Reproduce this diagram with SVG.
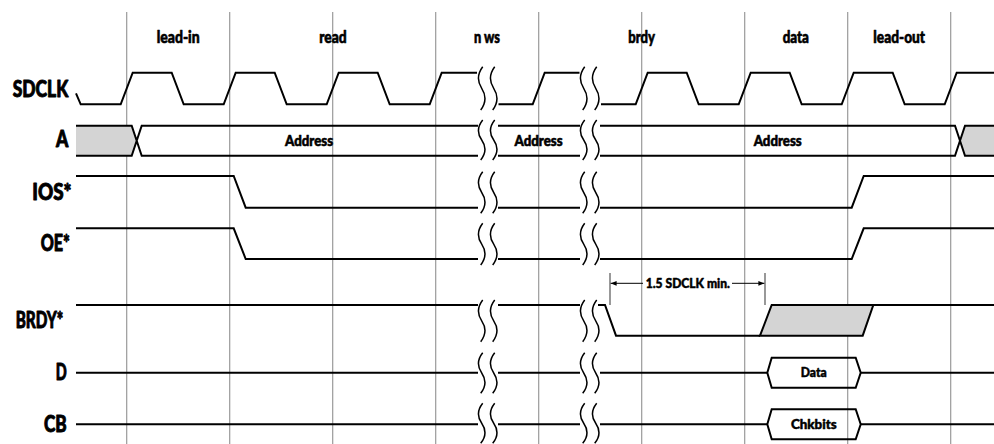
<svg xmlns="http://www.w3.org/2000/svg" width="994" height="444" viewBox="0 0 994 444">
<style>
.grid{stroke:#9a9a9a;stroke-width:1.2;fill:none}
.sig{fill:none;stroke:#000;stroke-width:2;stroke-linejoin:miter}
.brk{fill:none;stroke:#000;stroke-width:1.5}
.gray{fill:#d4d4d4;stroke:none}
.t{font-family:Lato,"Liberation Sans Narrow","DejaVu Sans Condensed",sans-serif;font-weight:900;fill:#000;stroke:#000;stroke-linejoin:round}
.lbl{font-size:22px;stroke-width:0.9}
.hdr{font-size:16px;text-anchor:middle;stroke-width:0.6}
.bus{font-size:15px;text-anchor:middle;stroke-width:0.6}
.sm{font-size:14px;stroke-width:0.5}
.tick{stroke:#555;stroke-width:1.2}
.dim{stroke:#000;stroke-width:1}
</style>
<defs>
<marker id="ah" viewBox="0 0 6 6" refX="6" refY="3" markerWidth="6" markerHeight="6" orient="auto" markerUnits="userSpaceOnUse">
<path d="M0,0.6 L6,3 L0,5.4 Z" fill="#000"/>
</marker>
</defs>
<rect width="994" height="444" fill="#fff"/>

<g id="grid">
<path class="grid" d="M126.7,12V444M229.7,12V444M332.7,12V444M435.7,12V444M538.7,12V444M641.7,12V444M744.7,12V444M847.7,12V444M950.7,12V444"/>
</g>

<g id="headers">
<text class="t hdr" x="178.2" y="43" textLength="43" lengthAdjust="spacingAndGlyphs">lead-in</text>
<text class="t hdr" x="333" y="43" textLength="27.4" lengthAdjust="spacingAndGlyphs">read</text>
<text class="t hdr" x="487" y="43" textLength="26" lengthAdjust="spacingAndGlyphs">n ws</text>
<text class="t hdr" x="641.7" y="43" textLength="26.7" lengthAdjust="spacingAndGlyphs">brdy</text>
<text class="t hdr" x="795.8" y="43" textLength="26.3" lengthAdjust="spacingAndGlyphs">data</text>
<text class="t hdr" x="899.2" y="43" textLength="51.7" lengthAdjust="spacingAndGlyphs">lead-out</text>
</g>

<g id="sdclk">
<text class="t lbl" x="12.7" y="97" textLength="55.6" lengthAdjust="spacingAndGlyphs">SDCLK</text>
<path class="sig" d="M76,93.3 L80.7,104.3 L120.7,104.3 L132.7,72.7 L171.7,72.7 L183.7,104.3 L223.7,104.3 L235.7,72.7 L274.7,72.7 L286.7,104.3 L326.7,104.3 L338.7,72.7 L377.7,72.7 L389.7,104.3 L429.7,104.3 L441.7,72.7 L477,72.7"/>
<path class="sig" d="M498.5,104.3 L532.7,104.3 L544.7,72.7 L579.5,72.7"/>
<path class="sig" d="M601,104.3 L635.7,104.3 L647.7,72.7 L686.7,72.7 L698.7,104.3 L738.7,104.3 L750.7,72.7 L789.7,72.7 L801.7,104.3 L841.7,104.3 L853.7,72.7 L892.7,72.7 L904.7,104.3 L944.7,104.3 L956.7,72.7 L994,72.7"/>
<path class="brk" d="M482.7,66.7 Q474.7,77.5 481.7,88.3 T480.7,110 M494.7,66.7 Q486.7,77.5 493.7,88.3 T492.7,110 M584.7,66.7 Q576.7,77.5 583.7,88.3 T582.7,110 M596.7,66.7 Q588.7,77.5 595.7,88.3 T594.7,110"/>
</g>

<g id="a">
<text class="t lbl" x="56" y="147" textLength="12.3" lengthAdjust="spacingAndGlyphs">A</text>
<path class="gray" d="M76,125.7 L131.7,125.7 L136.7,140.7 L131.7,155.7 L76,155.7 Z"/>
<path class="gray" d="M965,125.7 L994,125.7 L994,155.7 L965,155.7 L960,140.7 Z"/>
<path class="sig" d="M76,125.7 L131.7,125.7 L141.7,155.7 L478,155.7 M76,155.7 L131.7,155.7 L141.7,125.7 L478,125.7"/>
<path class="sig" d="M498,125.7 L580,125.7 M498,155.7 L580,155.7"/>
<path class="sig" d="M600,125.7 L955,125.7 L965,155.7 L994,155.7 M600,155.7 L955,155.7 L965,125.7 L994,125.7"/>
<text class="t bus" x="309" y="146" textLength="48" lengthAdjust="spacingAndGlyphs">Address</text>
<text class="t bus" x="538.5" y="146" textLength="48" lengthAdjust="spacingAndGlyphs">Address</text>
<text class="t bus" x="777.7" y="146" textLength="48" lengthAdjust="spacingAndGlyphs">Address</text>
<path class="brk" d="M482.7,120 Q474.7,130 481.7,140 T480.7,160 M494.7,120 Q486.7,130 493.7,140 T492.7,160 M584.7,120 Q576.7,130 583.7,140 T582.7,160 M596.7,120 Q588.7,130 595.7,140 T594.7,160"/>
</g>

<g id="ios">
<text class="t lbl" x="32.3" y="200" textLength="39.3" lengthAdjust="spacingAndGlyphs">IOS*</text>
<path class="sig" d="M76,176 L233.7,176 L245.7,207.7 L478,207.7 M498,207.7 L580,207.7 M600,207.7 L851.7,207.7 L863.7,176 L994,176"/>
<path class="brk" d="M482.7,171.7 Q474.7,182.1 481.7,192.5 T480.7,213.3 M494.7,171.7 Q486.7,182.1 493.7,192.5 T492.7,213.3 M584.7,171.7 Q576.7,182.1 583.7,192.5 T582.7,213.3 M596.7,171.7 Q588.7,182.1 595.7,192.5 T594.7,213.3"/>
</g>

<g id="oe">
<text class="t lbl" x="40.7" y="251" textLength="29.3" lengthAdjust="spacingAndGlyphs">OE*</text>
<path class="sig" d="M76,228.3 L233.7,228.3 L245.7,259 L478,259 M498,259 L580,259 M600,259 L851.7,259 L863.7,228.3 L994,228.3"/>
<path class="brk" d="M482.7,223.3 Q474.7,233.7 481.7,244.1 T480.7,265 M494.7,223.3 Q486.7,233.7 493.7,244.1 T492.7,265 M584.7,223.3 Q576.7,233.7 583.7,244.1 T582.7,265 M596.7,223.3 Q588.7,233.7 595.7,244.1 T594.7,265"/>
</g>

<g id="brdy">
<text class="t lbl" x="15.7" y="328" textLength="47.6" lengthAdjust="spacingAndGlyphs">BRDY*</text>
<path class="sig" d="M76,305 L478,305 M498,305 L580,305 M598,305 L605,305 L616,335.7 L760,335.7"/>
<path d="M760,335.7 L771.7,305 L873.3,305 L862.7,335.7 Z" fill="#d4d4d4" stroke="#000" stroke-width="2" stroke-linejoin="miter"/>
<path class="sig" d="M873.3,305 L994,305"/>
<path class="brk" d="M482.7,300 Q474.7,310.4 481.7,320.8 T480.7,341.7 M494.7,300 Q486.7,310.4 493.7,320.8 T492.7,341.7 M584.7,300 Q576.7,310.4 583.7,320.8 T582.7,341.7 M596.7,300 Q588.7,310.4 595.7,320.8 T594.7,341.7"/>
</g>

<g id="d">
<text class="t lbl" x="55.7" y="380" textLength="11" lengthAdjust="spacingAndGlyphs">D</text>
<path class="sig" d="M76,372.7 L478,372.7 M498,372.7 L580,372.7 M600,372.7 L767.3,372.7"/>
<path class="sig" d="M767.3,372.7 L771.7,357.7 L855.7,357.7 L860.7,372.7 L855.7,387.7 L771.7,387.7 Z"/>
<path class="sig" d="M860.7,372.7 L994,372.7"/>
<text class="t sm" x="813.7" y="377.3" text-anchor="middle" textLength="26" lengthAdjust="spacingAndGlyphs">Data</text>
<path class="brk" d="M482.7,352.7 Q474.7,362.8 481.7,373 T480.7,393.3 M494.7,352.7 Q486.7,362.8 493.7,373 T492.7,393.3 M584.7,352.7 Q576.7,362.8 583.7,373 T582.7,393.3 M596.7,352.7 Q588.7,362.8 595.7,373 T594.7,393.3"/>
</g>

<g id="cb">
<text class="t lbl" x="44" y="431.7" textLength="22.7" lengthAdjust="spacingAndGlyphs">CB</text>
<path class="sig" d="M76,424.3 L478,424.3 M498,424.3 L580,424.3 M600,424.3 L767.3,424.3"/>
<path class="sig" d="M767.3,424.3 L771.7,409.3 L855.7,409.3 L860.7,424.3 L855.7,439.3 L771.7,439.3 Z"/>
<path class="sig" d="M860.7,424.3 L994,424.3"/>
<text class="t sm" x="813.8" y="429.3" text-anchor="middle" textLength="45.7" lengthAdjust="spacingAndGlyphs">Chkbits</text>
<path class="brk" d="M482.7,403.3 Q474.7,413.3 481.7,423.3 T480.7,443.3 M494.7,403.3 Q486.7,413.3 493.7,423.3 T492.7,443.3 M584.7,403.3 Q576.7,413.3 583.7,423.3 T582.7,443.3 M596.7,403.3 Q588.7,413.3 595.7,423.3 T594.7,443.3"/>
</g>

<g id="connectors">
<path class="tick" d="M610,273 V305 M765,273 V305"/>
<path class="dim" d="M643,283.3 L610.6,283.3" marker-end="url(#ah)"/>
<path class="dim" d="M732,283.3 L764.4,283.3" marker-end="url(#ah)"/>
<text class="t sm" x="645.7" y="288.3" textLength="84.3" lengthAdjust="spacingAndGlyphs">1.5 SDCLK min.</text>
</g>
</svg>
